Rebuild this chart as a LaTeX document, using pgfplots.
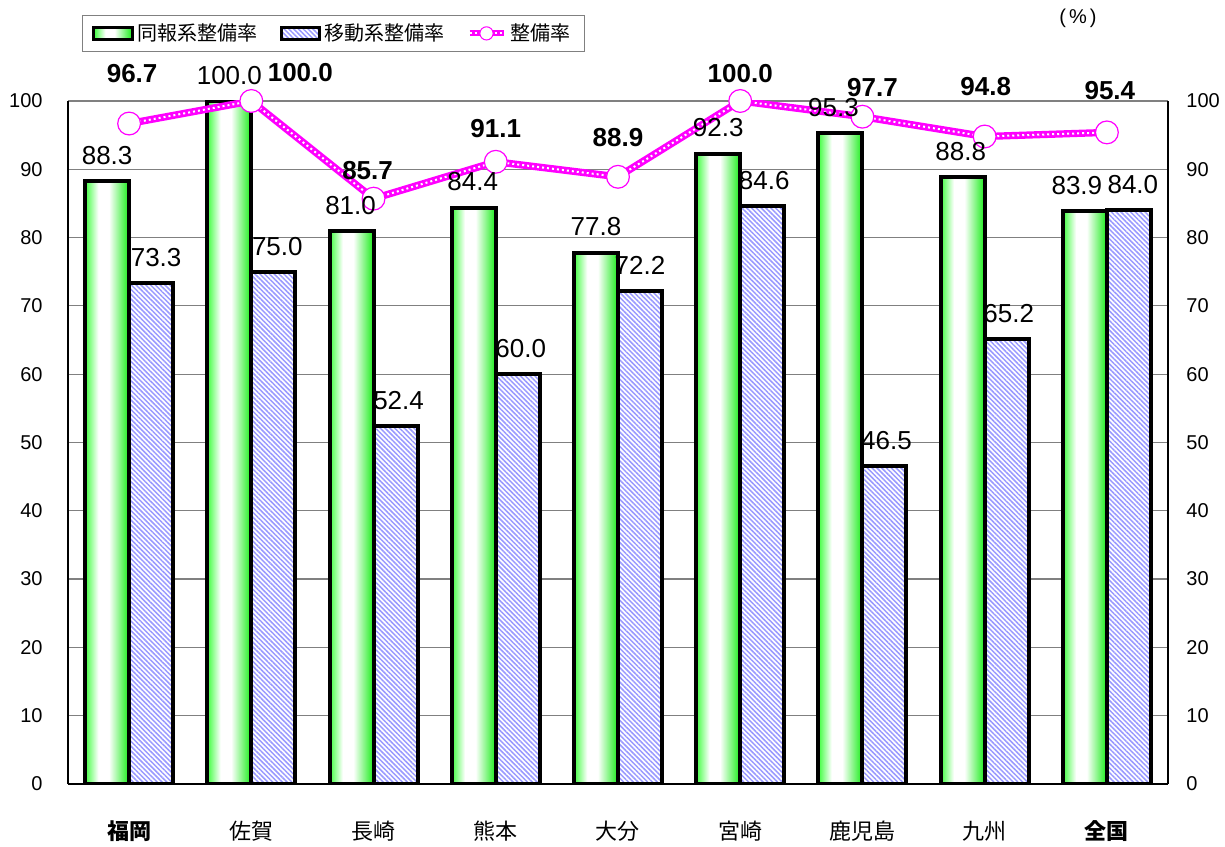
\documentclass[border=0pt]{standalone}
\usepackage{fontspec}
\setmainfont{Liberation Sans}
\newfontfamily\jp{Noto Sans CJK JP}
\usepackage{pgfplots}
\usepackage{pgfplotstable}
\pgfplotsset{compat=1.18}
\usetikzlibrary{patterns.meta}
\definecolor{gL}{rgb}{0.25,1,0.25}
\definecolor{gR}{rgb}{0.1,0.93,0.1}
\definecolor{pb}{rgb}{0.6,0.6,1}
\definecolor{mg}{rgb}{1,0,1}
\pgfdeclarehorizontalshading{greenbar}{100bp}{color(0bp)=(gL); color(25bp)=(gL); color(40bp)=(white); color(52bp)=(white); color(75bp)=(gR); color(100bp)=(gR)}
\pgfplotsset{/pgf/number format/assume math mode=true}

\pgfplotstableread{
x doho ido gdx bdx
0 88.3 73.3 -11 13.5
1 100.0 75.0 -11 13
2 81.0 52.4 -11.5 12.5
3 84.4 60.0 -11.5 12.5
4 77.8 72.2 -11 11
5 92.3 84.6 -11 12
6 95.3 46.5 -14.5 12
7 88.8 65.2 -12 12
8 83.9 84.0 -15 13
}\bars

\pgfplotstableread{
x y dx dy
0 96.7 1.5 20
1 100.0 24.5 9.5
2 85.7 -3 9.5
3 91.1 0 12
4 88.9 0 15
5 100.0 0 9
6 97.7 5 10
7 94.8 0.5 20
8 95.4 1.5 16
}\rate

\begin{document}
\begin{tikzpicture}
\path[use as bounding box] (0,0) rectangle (612.5pt,423pt);
\begin{axis}[
  at={(34pt,31pt)}, anchor=south west, scale only axis,
  width=550pt, height=341.5pt,
  xmin=-0.5, xmax=8.5, ymin=0, ymax=100,
  axis x line*=bottom, axis y line*=left,
  axis line style={black, line width=0.6pt},
  xtick={0,1,2,3,4,5,6,7,8},
  xticklabels={{\bfseries 福岡},佐賀,長崎,熊本,大分,宮崎,鹿児島,九州,{\bfseries 全国}},
  xticklabel style={font=\jp\fontsize{11pt}{11pt}\selectfont, anchor=center, yshift=-23.5pt},
  major x tick style={draw=none},
  extra x ticks={0.5,1.5,2.5,3.5,4.5,5.5,6.5,7.5},
  extra x tick labels={},
  extra x tick style={grid=none, major tick length=3pt, tick style={draw=black, line width=0.5pt}},
  ytick={0,10,...,100},
  ytick style={draw=none},
  yticklabel style={font=\fontsize{10pt}{10pt}\selectfont, inner sep=0pt, xshift=-12.5pt},
  ymajorgrids, grid style={gray, line width=0.6pt},
  legend columns=3,
  legend style={at={(rel axis cs:0,1)}, anchor=north west, xshift=7pt, yshift=43pt,
    draw=gray, line width=0.5pt, inner xsep=5pt, inner ysep=2pt,
    font=\jp\fontsize{10pt}{12pt}\selectfont,
    /tikz/every even column/.append style={column sep=9pt}},
  barlab/.style={point meta=y,
    visualization depends on={\thisrow{#1}\as\bdx},
    nodes near coords={\pgfmathprintnumber[fixed,fixed zerofill,precision=1]{\pgfplotspointmeta}},
    nodes near coords style={font=\fontsize{13pt}{13pt}\selectfont, anchor=south, inner sep=0pt, yshift=8pt, xshift=\bdx pt, text=black}},
]
\addlegendimage{legend image code/.code={\draw[black, line width=1.5pt, shading=greenbar] (0pt,-3pt) rectangle (19pt,3pt);}}
\addlegendentry{同報系整備率}
\addlegendimage{legend image code/.code={\draw[black, line width=1.5pt, fill=white, postaction={pattern={Lines[angle=-45,distance=1.7pt,line width=0.75pt]}, pattern color=pb}] (0pt,-3pt) rectangle (19pt,3pt);}}
\addlegendentry{移動系整備率}
\addlegendimage{legend image code/.code={\draw[mg, line width=3pt] (0pt,0pt) -- (17pt,0pt);
    \draw[white, line width=0.9pt, dash pattern=on 1pt off 1.5pt] (0pt,0pt) -- (17pt,0pt);
    \draw[mg, fill=white, line width=0.5pt] (8.5pt,0pt) circle (3.3pt);}}
\addlegendentry{整備率}
\pgfplotsinvokeforeach{0,1,2,3,4,5,6,7,8}{
\addplot[ybar, bar width=0.36, bar shift=-0.18, draw=black, line width=2pt, shading=greenbar,
  forget plot, restrict expr to domain={\coordindex}{#1:#1}]
  table[x=x,y=doho]{\bars};
}
\addplot[ybar, bar width=0.36, bar shift=0.18, draw=black, line width=2pt, fill=white,
  postaction={pattern={Lines[angle=-45,distance=1.7pt,line width=0.75pt]}, pattern color=pb},
  forget plot]
  table[x=x,y=ido]{\bars};
\addplot[mg, line width=3.6pt, no marks, forget plot]
  table[x=x,y=y]{\rate};
\addplot[white, line width=1pt, dash pattern=on 1pt off 1.5pt, no marks, forget plot]
  table[x=x,y=y]{\rate};
\addplot[only marks, mark=*, mark size=5.7pt, mark options={draw=mg, fill=white, line width=0.6pt},
  forget plot]
  table[x=x,y=y]{\rate};
% value labels of the bars, drawn above the line
\addplot[draw=none, no marks, forget plot, barlab=gdx] table[x=x,y=doho]{\bars};
\addplot[draw=none, no marks, forget plot, barlab=bdx] table[x=x,y=ido]{\bars};
% value labels of the line
\addplot[draw=none, no marks, forget plot, point meta=y,
  visualization depends on={\thisrow{dx}\as\dx},
  visualization depends on={\thisrow{dy}\as\dy},
  nodes near coords={\pgfmathprintnumber[fixed,fixed zerofill,precision=1]{\pgfplotspointmeta}},
  nodes near coords style={font=\bfseries\fontsize{13pt}{13pt}\selectfont, anchor=south, inner sep=0pt, xshift=\dx pt, yshift=\dy pt, text=black}]
  table[x=x,y=y]{\rate};
\end{axis}
\begin{axis}[
  at={(34pt,31pt)}, anchor=south west, scale only axis,
  width=550pt, height=341.5pt,
  xmin=-0.5, xmax=8.5, ymin=0, ymax=100,
  axis x line=none, axis y line*=right,
  axis line style={black, line width=0.6pt},
  ytick={0,10,...,100},
  ytick style={draw=none},
  yticklabel style={font=\fontsize{10pt}{10pt}\selectfont, inner sep=0pt, xshift=9pt},
]
\end{axis}
\node[font=\fontsize{10pt}{10pt}\selectfont] at (539pt,414pt) {(\kern1.5pt\%\kern1.5pt)};
\end{tikzpicture}
\end{document}
